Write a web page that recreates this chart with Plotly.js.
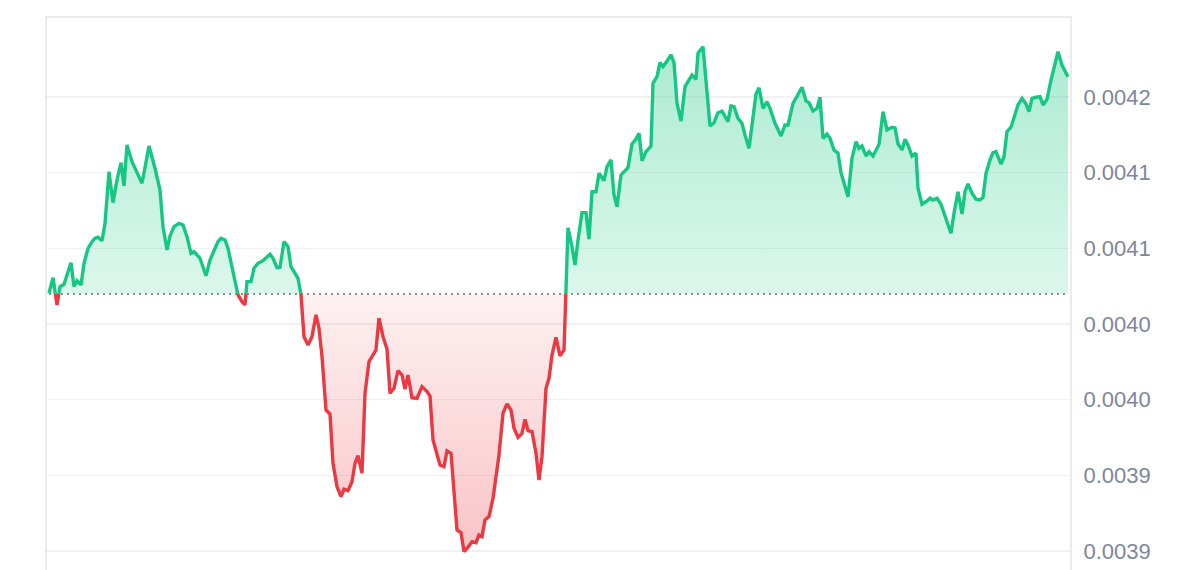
<!DOCTYPE html>
<html><head><meta charset="utf-8">
<script src="https://cdn.plot.ly/plotly-3.0.1.min.js"></script>
<style>html,body{margin:0;padding:0;overflow:hidden;background:#fff}#chart{width:1200px;height:620px}</style>
</head><body><div id="chart"></div><script>
const basePrice = 0.0040498;
const times = [0,4,8,11,15,22,25,28,32,35,39,43,46,49,53,56,60,64,68,72,75,78,83,88,93,100,106,111,114,118,121,125,130,134,138,142,145,151,157,161,165,169,172,176,179,183,186,189,193,196,198,202,205,209,214,221,224,228,231,235,239,242,246,249,252,255,259,263,267,270,273,277,281,284,288,292,295,299,303,306,309,313,316,320,323,327,330,334,338,341,345,349,353,356,359,363,368,373,378,381,384,389,391,395,398,402,405,408,412,415,419,423,427,430,433,436,440,444,450,454,458,462,465,469,473,476,479,483,487,490,493,497,500,503,507,511,515,519,523,526,529,533,537,540,543,547,550,555,558,562,565,568,572,576,579,583,587,590,593,597,602,604,608,611,614,618,622,625,628,632,636,639,643,647,649,654,657,661,665,669,673,676,679,682,685,689,693,696,700,703,707,710,714,718,721,726,732,736,739,744,749,753,757,760,764,768,771,774,778,781,785,789,792,795,799,803,807,810,813,817,820,824,827,830,834,838,843,846,849,853,856,859,863,867,869,873,878,881,884,888,892,896,899,902,905,909,913,916,919,923,927,931,934,937,941,944,947,952,955,958,962,966,969,973,977,980,983,987,991,994,998,1002,1005,1009,1013,1017,1019];
const prices = [0.0040503,0.0040606,0.0040426,0.0040547,0.0040562,0.0040705,0.0040547,0.0040586,0.0040558,0.0040701,0.0040800,0.0040844,0.0040866,0.0040873,0.0040850,0.0040965,0.0041306,0.0041102,0.0041252,0.0041366,0.0041212,0.0041483,0.0041372,0.0041306,0.0041230,0.0041476,0.0041329,0.0041185,0.0040943,0.0040789,0.0040882,0.0040943,0.0040965,0.0040954,0.0040877,0.0040767,0.0040778,0.0040734,0.0040619,0.0040723,0.0040789,0.0040844,0.0040866,0.0040855,0.0040800,0.0040679,0.0040569,0.0040492,0.0040447,0.0040426,0.0040580,0.0040580,0.0040668,0.0040701,0.0040718,0.0040761,0.0040734,0.0040672,0.0040675,0.0040844,0.0040811,0.0040679,0.0040639,0.0040602,0.0040492,0.0040216,0.0040161,0.0040216,0.0040360,0.0040272,0.0040084,0.0039732,0.0039705,0.0039380,0.0039225,0.0039159,0.0039208,0.0039199,0.0039258,0.0039380,0.0039430,0.0039314,0.0039842,0.0040051,0.0040084,0.0040128,0.0040338,0.0040216,0.0040135,0.0039842,0.0039875,0.0039992,0.0039963,0.0039869,0.0039963,0.0039813,0.0039809,0.0039886,0.0039853,0.0039824,0.0039534,0.0039413,0.0039368,0.0039357,0.0039461,0.0039446,0.0039159,0.0038939,0.0038921,0.0038796,0.0038825,0.0038862,0.0038855,0.0038906,0.0038895,0.0039005,0.0039027,0.0039148,0.0039434,0.0039710,0.0039771,0.0039732,0.0039611,0.0039551,0.0039577,0.0039670,0.0039595,0.0039588,0.0039446,0.0039269,0.0039423,0.0039875,0.0039941,0.0040095,0.0040211,0.0040089,0.0040128,0.0040936,0.0040811,0.0040690,0.0040855,0.0041036,0.0041036,0.0040860,0.0041174,0.0041174,0.0041296,0.0041247,0.0041339,0.0041384,0.0041152,0.0041075,0.0041285,0.0041311,0.0041333,0.0041489,0.0041522,0.0041560,0.0041379,0.0041439,0.0041476,0.0041891,0.0041934,0.0042027,0.0042000,0.0042038,0.0042078,0.0042027,0.0041758,0.0041641,0.0041868,0.0041901,0.0041945,0.0041917,0.0042089,0.0042132,0.0041891,0.0041608,0.0041630,0.0041696,0.0041707,0.0041671,0.0041637,0.0041741,0.0041736,0.0041659,0.0041626,0.0041549,0.0041461,0.0041615,0.0041820,0.0041861,0.0041725,0.0041769,0.0041725,0.0041626,0.0041542,0.0041615,0.0041615,0.0041758,0.0041813,0.0041864,0.0041774,0.0041762,0.0041707,0.0041725,0.0041798,0.0041527,0.0041554,0.0041527,0.0041450,0.0041428,0.0041300,0.0041230,0.0041141,0.0041395,0.0041505,0.0041461,0.0041476,0.0041410,0.0041439,0.0041410,0.0041450,0.0041487,0.0041703,0.0041582,0.0041600,0.0041596,0.0041491,0.0041450,0.0041521,0.0041483,0.0041410,0.0041428,0.0041197,0.0041091,0.0041113,0.0041131,0.0041119,0.0041131,0.0041091,0.0041020,0.0040965,0.0040899,0.0041032,0.0041174,0.0041027,0.0041174,0.0041225,0.0041164,0.0041124,0.0041119,0.0041137,0.0041296,0.0041384,0.0041432,0.0041439,0.0041357,0.0041406,0.0041571,0.0041600,0.0041688,0.0041747,0.0041791,0.0041754,0.0041703,0.0041791,0.0041798,0.0041802,0.0041747,0.0041785,0.0041912,0.0041990,0.0042099,0.0042011,0.0041957,0.0041934];
const tickValues = [0.00388,0.00393,0.00398,0.00403,0.00408,0.00413,0.00418];
const tickLabels = ['0.0039','0.0039','0.0040','0.0040','0.0041','0.0041','0.0042'];

const GREEN = '#16c784', RED = '#ea3943';

// insert baseline crossings so the colour switches exactly at the base level
const xs = [], ys = [];
for (let i = 0; i < times.length; i++) {
  if (i > 0) {
    const a = prices[i-1] - basePrice, b = prices[i] - basePrice;
    if ((a > 0 && b < 0) || (a < 0 && b > 0)) {
      const f = a / (a - b);
      xs.push(times[i-1] + f * (times[i] - times[i-1]));
      ys.push(basePrice);
    }
  }
  xs.push(times[i]); ys.push(prices[i]);
}
const baseArr = xs.map(() => basePrice);
const upper = ys.map(v => Math.max(v, basePrice));
const lower = ys.map(v => Math.min(v, basePrice));
const greenLine = ys.map(v => v >= basePrice ? v : null);
const redLine = ys.map(v => v <= basePrice ? v : null);
const pMax = Math.max(...prices), pMin = Math.min(...prices);

const traces = [
  {x: xs, y: baseArr, mode: 'lines', line: {width: 0}, hoverinfo: 'skip'},
  {x: xs, y: upper, mode: 'lines', line: {width: 0}, fill: 'tonexty', hoverinfo: 'skip',
   fillgradient: {type: 'vertical', start: basePrice, stop: pMax,
     colorscale: [[0, 'rgba(22,199,132,0.15)'], [1, 'rgba(22,199,132,0.36)']]}},
  {x: xs, y: baseArr, mode: 'lines', line: {width: 0}, hoverinfo: 'skip'},
  {x: xs, y: lower, mode: 'lines', line: {width: 0}, fill: 'tonexty', hoverinfo: 'skip',
   fillgradient: {type: 'vertical', start: pMin, stop: basePrice,
     colorscale: [[0, 'rgba(234,57,67,0.30)'], [1, 'rgba(234,57,67,0.07)']]}},
  {x: [times[0], times[times.length-1]], y: [basePrice, basePrice], mode: 'lines',
   line: {color: '#8f8f8f', width: 2, dash: '2px,4px'}, hoverinfo: 'skip'},
  {x: xs, y: greenLine, mode: 'lines', connectgaps: false, line: {color: GREEN, width: 3.4}, hoverinfo: 'skip'},
  {x: xs, y: redLine, mode: 'lines', connectgaps: false, line: {color: RED, width: 3.4}, hoverinfo: 'skip'}
];

const layout = {
  width: 1200, height: 620,
  margin: {l: 47, r: 130, t: 18, b: 30},
  paper_bgcolor: '#ffffff', plot_bgcolor: '#ffffff',
  showlegend: false,
  xaxis: {range: [-2, 1021], showgrid: false, zeroline: false, showticklabels: false, ticks: '',
          showline: true, mirror: true, linecolor: '#ebebeb', linewidth: 2},
  yaxis: {range: [0.00385423, 0.00423218], side: 'right', tickmode: 'array',
          tickvals: tickValues, ticktext: tickLabels,
          showgrid: true, gridcolor: '#f1f1f1', gridwidth: 1.5, zeroline: false,
          showline: true, mirror: true, linecolor: '#ebebeb', linewidth: 2,
          ticks: 'outside', ticklen: 7, tickcolor: 'rgba(0,0,0,0)',
          tickfont: {family: 'Liberation Sans, Arial, sans-serif', size: 22, color: '#7d869b'}}
};

Plotly.newPlot('chart', traces, layout, {staticPlot: true, displayModeBar: false});
</script></body></html>
